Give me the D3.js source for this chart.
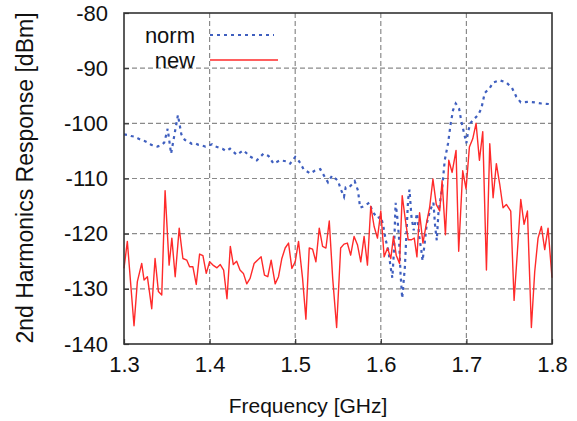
<!DOCTYPE html>
<html>
<head>
<meta charset="utf-8">
<script src="https://cdn.jsdelivr.net/npm/d3@7.9.0/dist/d3.min.js"></script>
<style>
  body { margin: 0; background: #fff; }
  svg { display: block; font-family: "Liberation Sans", Arial, sans-serif; }
</style>
</head>
<body>
<svg id="chart" width="577" height="421"></svg>
<script>
// tick values
const xTicks = [1.3, 1.4, 1.5, 1.6, 1.7, 1.8];
const yTicks = [-80, -90, -100, -110, -120, -130, -140];

// "norm" series (blue, dashed)
const normFreq = [1.3000, 1.3040, 1.3080, 1.3120, 1.3160, 1.3200, 1.3240, 1.3280, 1.3320, 1.3360,
  1.3390, 1.3430, 1.3470, 1.3510, 1.3550, 1.3590, 1.3630, 1.3670, 1.3710, 1.3750,
  1.3790, 1.3830, 1.3870, 1.3910, 1.3950, 1.3990, 1.4030, 1.4070, 1.4110, 1.4150,
  1.4190, 1.4238, 1.4316, 1.4395, 1.4473, 1.4551, 1.4629, 1.4688, 1.4746, 1.4824,
  1.4902, 1.4941, 1.5000, 1.5047, 1.5098, 1.5176, 1.5227, 1.5293, 1.5352, 1.5383,
  1.5430, 1.5500, 1.5531, 1.5570, 1.5590, 1.5629, 1.5668, 1.5695, 1.5734, 1.5758,
  1.5805, 1.5865, 1.5904, 1.5962, 1.6000, 1.6027, 1.6058, 1.6088, 1.6115, 1.6135,
  1.6154, 1.6173, 1.6192, 1.6212, 1.6231, 1.6250, 1.6281, 1.6296, 1.6319, 1.6335,
  1.6358, 1.6385, 1.6423, 1.6450, 1.6473, 1.6488, 1.6512, 1.6538, 1.6577, 1.6615,
  1.6635, 1.6654, 1.6673, 1.6719, 1.6747, 1.6786, 1.6817, 1.6844, 1.6875, 1.6914,
  1.6942, 1.6973, 1.7000, 1.7019, 1.7047, 1.7078, 1.7136, 1.7175, 1.7214, 1.7273,
  1.7312, 1.7389, 1.7467, 1.7533, 1.7584, 1.7635, 1.7720, 1.7798, 1.7876, 1.7962, 1.8000];
const normDbm = [-102.0, -102.1, -102.3, -102.4, -102.7, -103.0, -103.2, -103.5, -103.9, -104.0,
  -104.2, -104.0, -103.5, -101.0, -105.5, -102.0, -98.5, -102.0, -103.0, -103.3,
  -103.7, -103.6, -103.9, -104.0, -104.2, -104.0, -103.8, -104.2, -104.4, -104.6,
  -105.0, -104.6, -105.7, -104.9, -106.0, -106.7, -105.5, -105.9, -107.3, -106.7,
  -106.9, -107.3, -106.1, -106.9, -108.3, -109.1, -108.6, -108.3, -109.9, -110.7,
  -109.5, -110.4, -111.9, -113.3, -111.6, -111.6, -111.0, -110.5, -112.2, -115.3,
  -115.0, -114.4, -116.0, -117.2, -116.9, -118.4, -121.2, -123.0, -126.1, -128.0,
  -123.0, -114.4, -116.9, -120.6, -127.4, -131.7, -126.1, -121.2, -113.8, -112.0,
  -116.9, -119.4, -116.3, -120.6, -123.0, -124.9, -121.8, -118.1, -115.7, -114.4,
  -118.7, -121.2, -116.3, -111.4, -106.7, -103.6, -100.0, -97.6, -96.4, -97.3,
  -99.7, -101.8, -103.6, -101.5, -100.0, -99.4, -98.5, -97.3, -94.5, -93.6,
  -92.6, -92.2, -92.6, -93.6, -95.2, -96.2, -96.1, -96.2, -96.4, -96.5, -96.6];

// "new" series (red, solid)
const newFreq = [1.3000, 1.3039, 1.3117, 1.3156, 1.3207, 1.3234, 1.3273, 1.3324, 1.3363, 1.3402,
  1.3441, 1.3480, 1.3527, 1.3559, 1.3598, 1.3645, 1.3688, 1.3734, 1.3766, 1.3805,
  1.3844, 1.3883, 1.3922, 1.3961, 1.4000, 1.4039, 1.4086, 1.4125, 1.4164, 1.4203,
  1.4242, 1.4277, 1.4316, 1.4355, 1.4395, 1.4434, 1.4473, 1.4520, 1.4559, 1.4602,
  1.4641, 1.4680, 1.4719, 1.4766, 1.4805, 1.4844, 1.4883, 1.4922, 1.4961, 1.5000,
  1.5039, 1.5086, 1.5125, 1.5164, 1.5203, 1.5242, 1.5281, 1.5320, 1.5359, 1.5398,
  1.5438, 1.5484, 1.5531, 1.5570, 1.5609, 1.5648, 1.5688, 1.5727, 1.5766, 1.5805,
  1.5844, 1.5883, 1.5922, 1.5961, 1.6000, 1.6039, 1.6078, 1.6117, 1.6148, 1.6180,
  1.6219, 1.6250, 1.6289, 1.6320, 1.6359, 1.6391, 1.6422, 1.6453, 1.6492, 1.6531,
  1.6570, 1.6609, 1.6648, 1.6688, 1.6716, 1.6755, 1.6794, 1.6833, 1.6879, 1.6910,
  1.6957, 1.6996, 1.7035, 1.7074, 1.7113, 1.7152, 1.7191, 1.7234, 1.7273, 1.7312,
  1.7350, 1.7389, 1.7428, 1.7467, 1.7518, 1.7557, 1.7596, 1.7635, 1.7674, 1.7713,
  1.7759, 1.7798, 1.7837, 1.7876, 1.7915, 1.7954, 1.8000];
const newDbm = [-126.3, -121.4, -136.7, -128.7, -125.4, -128.4, -127.8, -133.6, -124.5, -130.5,
  -131.1, -112.2, -125.7, -120.8, -127.8, -119.0, -124.5, -124.8, -126.0, -126.0,
  -129.2, -123.7, -124.0, -127.2, -125.1, -125.7, -126.2, -125.6, -126.6, -131.8,
  -122.3, -125.6, -125.0, -126.6, -127.2, -129.1, -128.1, -125.4, -124.8, -124.2,
  -127.5, -127.8, -124.8, -129.1, -127.8, -124.5, -122.6, -121.7, -126.3, -125.1,
  -121.4, -128.1, -135.5, -122.6, -122.8, -125.1, -119.0, -122.3, -122.6, -117.7,
  -128.1, -137.0, -122.6, -121.9, -121.7, -123.9, -120.5, -122.0, -125.1, -120.5,
  -125.7, -115.0, -118.7, -120.8, -115.9, -124.2, -122.6, -124.5, -120.5, -123.9,
  -125.4, -113.1, -117.7, -121.1, -121.1, -120.8, -124.2, -116.2, -121.7, -118.3,
  -115.3, -110.1, -114.7, -115.9, -110.4, -120.2, -106.7, -108.9, -104.9, -123.2,
  -108.6, -111.9, -104.3, -102.8, -100.0, -106.7, -101.5, -126.6, -103.7, -113.5,
  -107.3, -111.0, -115.3, -114.7, -115.9, -132.1, -123.2, -113.8, -118.3, -115.9,
  -137.0, -126.9, -120.8, -118.7, -122.9, -119.0, -128.0];

const svg = d3.select('#chart');
const plotL = 124, plotR = 552, plotT = 13, plotB = 344;

const x = d3.scaleLinear().domain([1.3, 1.8]).range([plotL, plotR]);
const y = d3.scaleLinear().domain([-140, -80]).range([plotB, plotT]);

// grid
const grid = svg.append('g');
grid.selectAll('.gx')
  .data(xTicks.slice(1, -1))
  .join('line')
  .attr('x1', d => x(d)).attr('x2', d => x(d))
  .attr('y1', plotT).attr('y2', plotB)
  .attr('stroke', '#8a8a8a').attr('stroke-width', 1.2)
  .attr('stroke-dasharray', '5,3');
grid.selectAll('.gy')
  .data(yTicks.slice(1, -1))
  .join('line')
  .attr('x1', plotL).attr('x2', plotR)
  .attr('y1', d => y(d)).attr('y2', d => y(d))
  .attr('stroke', '#8a8a8a').attr('stroke-width', 1.2)
  .attr('stroke-dasharray', '5,3');

// axes (labels + small inward ticks), plain hyphen for negatives
const xAxis = svg.append('g')
  .attr('transform', `translate(0,${plotB})`)
  .call(d3.axisBottom(x).tickValues(xTicks).tickSize(-5).tickPadding(12).tickFormat(d => d.toFixed(1)));
const yAxis = svg.append('g')
  .attr('transform', `translate(${plotL},0)`)
  .call(d3.axisLeft(y).tickValues(yTicks).tickSize(-5).tickPadding(16).tickFormat(d => String(d)));

[xAxis, yAxis].forEach(a => {
  a.select('.domain').remove();
  a.selectAll('line').attr('stroke', '#333').attr('stroke-width', 1.2);
  a.selectAll('text')
    .attr('fill', '#111')
    .style('font-family', '"Liberation Sans", Arial, sans-serif')
    .style('font-size', '22px');
});
xAxis.selectAll('text').attr('dy', '0.71em');

// series
const line = d3.line().x(d => x(d[0])).y(d => y(d[1]));

svg.append('path')
  .datum(d3.zip(normFreq, normDbm))
  .attr('d', line)
  .attr('fill', 'none')
  .attr('stroke', '#3f5fbf')
  .attr('stroke-width', 2.2)
  .attr('stroke-dasharray', '3,4');

svg.append('path')
  .datum(d3.zip(newFreq, newDbm))
  .attr('d', line)
  .attr('fill', 'none')
  .attr('stroke', '#ff2a2a')
  .attr('stroke-width', 1.4)
  .attr('stroke-linejoin', 'round');

// frame
svg.append('rect')
  .attr('x', plotL).attr('y', plotT)
  .attr('width', plotR - plotL).attr('height', plotB - plotT)
  .attr('fill', 'none')
  .attr('stroke', '#333')
  .attr('stroke-width', 1.6);

// legend
const legend = svg.append('g').style('font-size', '22px').attr('fill', '#111');
legend.append('text').attr('x', 195).attr('y', 43).attr('text-anchor', 'end').text('norm');
legend.append('text').attr('x', 195).attr('y', 68).attr('text-anchor', 'end').text('new');
legend.append('line')
  .attr('x1', 210).attr('x2', 274).attr('y1', 35).attr('y2', 35)
  .attr('stroke', '#3f5fbf').attr('stroke-width', 2.2).attr('stroke-dasharray', '3,4');
legend.append('line')
  .attr('x1', 210).attr('x2', 278).attr('y1', 60).attr('y2', 60)
  .attr('stroke', '#ff2a2a').attr('stroke-width', 1.4);

// axis titles
svg.append('text')
  .attr('x', 308).attr('y', 413)
  .attr('text-anchor', 'middle')
  .style('font-size', '21px')
  .attr('fill', '#111')
  .text('Frequency [GHz]');

svg.append('text')
  .attr('transform', 'translate(33,178) rotate(-90)')
  .attr('text-anchor', 'middle')
  .style('font-size', '23px')
  .attr('fill', '#111')
  .text('2nd Harmonics Response [dBm]');
</script>
</body>
</html>
